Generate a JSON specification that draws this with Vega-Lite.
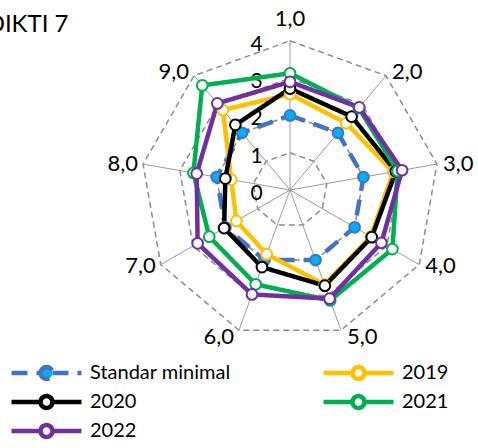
{
  "$schema": "https://vega.github.io/schema/vega-lite/v6.json",
  "width": 478,
  "height": 448,
  "padding": 0,
  "autosize": {"type": "none"},
  "background": "white",
  "title": {
    "text": "LLDIKTI 7",
    "anchor": "start",
    "frame": "group",
    "offset": 0,
    "dx": -38,
    "dy": 56,
    "baseline": "alphabetic",
    "font": "Lato",
    "fontSize": 24,
    "fontWeight": "normal",
    "color": "#000000"
  },
  "config": {
    "view": {"stroke": null},
    "font": "Lato",
    "legend": {
      "orient": "none",
      "legendX": 9,
      "legendY": 363,
      "direction": "horizontal",
      "columns": 2,
      "columnPadding": 90,
      "rowPadding": 9,
      "padding": 0,
      "labelFont": "Lato",
      "labelFontSize": 20,
      "labelColor": "#000000",
      "labelOffset": 6,
      "symbolSize": 4900,
      "symbolStrokeWidth": 4.5,
      "clipHeight": 20,
      "symbolType": "M-1,0H-0.17M0.17,0H1M-0.17,0A0.17,0.17 0 1,1 0.17,0A0.17,0.17 0 1,1 -0.17,0Z"
    }
  },
  "datasets": {
    "scores": [
      {"series": "Standar minimal", "k": 1, "value": 2},
      {"series": "Standar minimal", "k": 2, "value": 2},
      {"series": "Standar minimal", "k": 3, "value": 2},
      {"series": "Standar minimal", "k": 4, "value": 2},
      {"series": "Standar minimal", "k": 5, "value": 2},
      {"series": "Standar minimal", "k": 6, "value": 2},
      {"series": "Standar minimal", "k": 7, "value": 2},
      {"series": "Standar minimal", "k": 8, "value": 2},
      {"series": "Standar minimal", "k": 9, "value": 2},
      {"series": "2019", "k": 1, "value": 2.57},
      {"series": "2019", "k": 2, "value": 2.34},
      {"series": "2019", "k": 3, "value": 2.81},
      {"series": "2019", "k": 4, "value": 2.5},
      {"series": "2019", "k": 5, "value": 2.7},
      {"series": "2019", "k": 6, "value": 1.83},
      {"series": "2019", "k": 7, "value": 1.66},
      {"series": "2019", "k": 8, "value": 1.6},
      {"series": "2019", "k": 9, "value": 2.8},
      {"series": "2020", "k": 1, "value": 2.72},
      {"series": "2020", "k": 2, "value": 2.57},
      {"series": "2020", "k": 3, "value": 2.88},
      {"series": "2020", "k": 4, "value": 2.53},
      {"series": "2020", "k": 5, "value": 2.73},
      {"series": "2020", "k": 6, "value": 2.2},
      {"series": "2020", "k": 7, "value": 2.04},
      {"series": "2020", "k": 8, "value": 1.76},
      {"series": "2020", "k": 9, "value": 2.28},
      {"series": "2021", "k": 1, "value": 3.13},
      {"series": "2021", "k": 2, "value": 2.87},
      {"series": "2021", "k": 3, "value": 2.93},
      {"series": "2021", "k": 4, "value": 3.17},
      {"series": "2021", "k": 5, "value": 3.15},
      {"series": "2021", "k": 6, "value": 2.69},
      {"series": "2021", "k": 7, "value": 2.5},
      {"series": "2021", "k": 8, "value": 2.63},
      {"series": "2021", "k": 9, "value": 3.66},
      {"series": "2022", "k": 1, "value": 2.9},
      {"series": "2022", "k": 2, "value": 2.89},
      {"series": "2022", "k": 3, "value": 3.05},
      {"series": "2022", "k": 4, "value": 2.83},
      {"series": "2022", "k": 5, "value": 3.1},
      {"series": "2022", "k": 6, "value": 2.98},
      {"series": "2022", "k": 7, "value": 2.86},
      {"series": "2022", "k": 8, "value": 2.54},
      {"series": "2022", "k": 9, "value": 3.03}
    ],
    "spokes": [
      {"k": 1, "label": "1,0"},
      {"k": 2, "label": "2,0"},
      {"k": 3, "label": "3,0"},
      {"k": 4, "label": "4,0"},
      {"k": 5, "label": "5,0"},
      {"k": 6, "label": "6,0"},
      {"k": 7, "label": "7,0"},
      {"k": 8, "label": "8,0"},
      {"k": 9, "label": "9,0"}
    ],
    "rings": [
      {"level": 1, "k": 1}, {"level": 1, "k": 2}, {"level": 1, "k": 3}, {"level": 1, "k": 4}, {"level": 1, "k": 5}, {"level": 1, "k": 6}, {"level": 1, "k": 7}, {"level": 1, "k": 8}, {"level": 1, "k": 9},
      {"level": 2, "k": 1}, {"level": 2, "k": 2}, {"level": 2, "k": 3}, {"level": 2, "k": 4}, {"level": 2, "k": 5}, {"level": 2, "k": 6}, {"level": 2, "k": 7}, {"level": 2, "k": 8}, {"level": 2, "k": 9},
      {"level": 3, "k": 1}, {"level": 3, "k": 2}, {"level": 3, "k": 3}, {"level": 3, "k": 4}, {"level": 3, "k": 5}, {"level": 3, "k": 6}, {"level": 3, "k": 7}, {"level": 3, "k": 8}, {"level": 3, "k": 9},
      {"level": 4, "k": 1}, {"level": 4, "k": 2}, {"level": 4, "k": 3}, {"level": 4, "k": 4}, {"level": 4, "k": 5}, {"level": 4, "k": 6}, {"level": 4, "k": 7}, {"level": 4, "k": 8}, {"level": 4, "k": 9}
    ],
    "levels": [
      {"level": 0, "label": "0"},
      {"level": 1, "label": "1"},
      {"level": 2, "label": "2"},
      {"level": 3, "label": "3"},
      {"level": 4, "label": "4"}
    ]
  },
  "layer": [
    {
      "data": {"name": "rings"},
      "transform": [
        {"calculate": "2*PI*(datum.k-1)/9", "as": "a"},
        {"calculate": "datum.level*sin(datum.a)", "as": "px"},
        {"calculate": "datum.level*cos(datum.a)", "as": "py"}
      ],
      "mark": {"type": "line", "interpolate": "linear-closed", "stroke": "#8c8c8c", "strokeWidth": 1.5, "strokeDash": [6, 4]},
      "encoding": {
        "x": {"field": "px", "type": "quantitative", "scale": {"domain": [-7.775, 5.04], "nice": false, "zero": false}, "axis": null},
        "y": {"field": "py", "type": "quantitative", "scale": {"domain": [-6.917, 5.094], "nice": false, "zero": false}, "axis": null},
        "detail": {"field": "level", "type": "nominal"},
        "order": {"field": "k", "type": "quantitative"}
      }
    },
    {
      "data": {"name": "spokes"},
      "transform": [
        {"calculate": "2*PI*(datum.k-1)/9", "as": "a"},
        {"calculate": "4*sin(datum.a)", "as": "px"},
        {"calculate": "4*cos(datum.a)", "as": "py"},
        {"calculate": "0", "as": "ox"},
        {"calculate": "0", "as": "oy"}
      ],
      "mark": {"type": "rule", "stroke": "#9a9a9a", "strokeWidth": 1},
      "encoding": {
        "x": {"field": "px", "type": "quantitative", "axis": null},
        "y": {"field": "py", "type": "quantitative", "axis": null},
        "x2": {"field": "ox"},
        "y2": {"field": "oy"}
      }
    },
    {
      "data": {"name": "levels"},
      "transform": [
        {"calculate": "0", "as": "px"}
      ],
      "mark": {"type": "text", "align": "center", "baseline": "middle", "dx": -33.5, "dy": 4, "fontSize": 21, "font": "Lato", "color": "#000000"},
      "encoding": {
        "x": {"field": "px", "type": "quantitative", "axis": null},
        "y": {"field": "level", "type": "quantitative", "axis": null},
        "text": {"field": "label", "type": "nominal"}
      }
    },
    {
      "data": {"name": "scores"},
      "transform": [
        {"calculate": "2*PI*(datum.k-1)/9", "as": "a"},
        {"calculate": "datum.value*sin(datum.a)", "as": "px"},
        {"calculate": "datum.value*cos(datum.a)", "as": "py"}
      ],
      "mark": {"type": "line", "interpolate": "linear-closed", "strokeWidth": 4.5},
      "encoding": {
        "x": {"field": "px", "type": "quantitative", "axis": null},
        "y": {"field": "py", "type": "quantitative", "axis": null},
        "order": {"field": "k", "type": "quantitative"},
        "stroke": {
          "field": "series", "type": "nominal",
          "scale": {"domain": ["Standar minimal", "2019", "2020", "2021", "2022"], "range": ["#4472C4", "#FFC000", "#000000", "#00B050", "#7030A0"]},
          "legend": {"title": null}
        },
        "strokeDash": {
          "field": "series", "type": "nominal",
          "scale": {"domain": ["Standar minimal", "2019", "2020", "2021", "2022"], "range": [[16, 9], [1, 0], [1, 0], [1, 0], [1, 0]]},
          "legend": {"title": null}
        }
      }
    },
    {
      "data": {"name": "scores"},
      "transform": [
        {"calculate": "2*PI*(datum.k-1)/9", "as": "a"},
        {"calculate": "datum.value*sin(datum.a)", "as": "px"},
        {"calculate": "datum.value*cos(datum.a)", "as": "py"}
      ],
      "mark": {"type": "point", "shape": "circle", "filled": true, "size": 115, "strokeWidth": 2, "opacity": 1},
      "encoding": {
        "x": {"field": "px", "type": "quantitative", "axis": null},
        "y": {"field": "py", "type": "quantitative", "axis": null},
        "stroke": {"field": "series", "type": "nominal", "legend": {"title": null}},
        "fill": {
          "field": "series", "type": "nominal",
          "scale": {"domain": ["Standar minimal", "2019", "2020", "2021", "2022"], "range": ["#00B0F0", "#FFFFFF", "#FFFFFF", "#FFFFFF", "#FFFFFF"]},
          "legend": {"title": null}
        }
      }
    },
    {
      "data": {"name": "spokes"},
      "transform": [
        {"filter": "datum.k == 1"},
        {"calculate": "0", "as": "px"},
        {"calculate": "4", "as": "py"}
      ],
      "mark": {"type": "text", "align": "center", "baseline": "middle", "dy": -22, "fontSize": 22, "font": "Lato", "color": "#000000"},
      "encoding": {
        "x": {"field": "px", "type": "quantitative", "axis": null},
        "y": {"field": "py", "type": "quantitative", "axis": null},
        "text": {"field": "label", "type": "nominal"}
      }
    },
    {
      "data": {"name": "spokes"},
      "transform": [
        {"filter": "datum.k >= 2 && datum.k <= 5"},
        {"calculate": "2*PI*(datum.k-1)/9", "as": "a"},
        {"calculate": "4*sin(datum.a)", "as": "px"},
        {"calculate": "4*cos(datum.a) + 0.21*pow(cos(datum.a),3)", "as": "py"}
      ],
      "mark": {"type": "text", "align": "left", "baseline": "middle", "dx": 6, "fontSize": 22, "font": "Lato", "color": "#000000"},
      "encoding": {
        "x": {"field": "px", "type": "quantitative", "axis": null},
        "y": {"field": "py", "type": "quantitative", "axis": null},
        "text": {"field": "label", "type": "nominal"}
      }
    },
    {
      "data": {"name": "spokes"},
      "transform": [
        {"filter": "datum.k >= 6"},
        {"calculate": "2*PI*(datum.k-1)/9", "as": "a"},
        {"calculate": "4*sin(datum.a)", "as": "px"},
        {"calculate": "4*cos(datum.a) + 0.21*pow(cos(datum.a),3)", "as": "py"}
      ],
      "mark": {"type": "text", "align": "right", "baseline": "middle", "dx": -5, "fontSize": 22, "font": "Lato", "color": "#000000"},
      "encoding": {
        "x": {"field": "px", "type": "quantitative", "axis": null},
        "y": {"field": "py", "type": "quantitative", "axis": null},
        "text": {"field": "label", "type": "nominal"}
      }
    }
  ]
}
